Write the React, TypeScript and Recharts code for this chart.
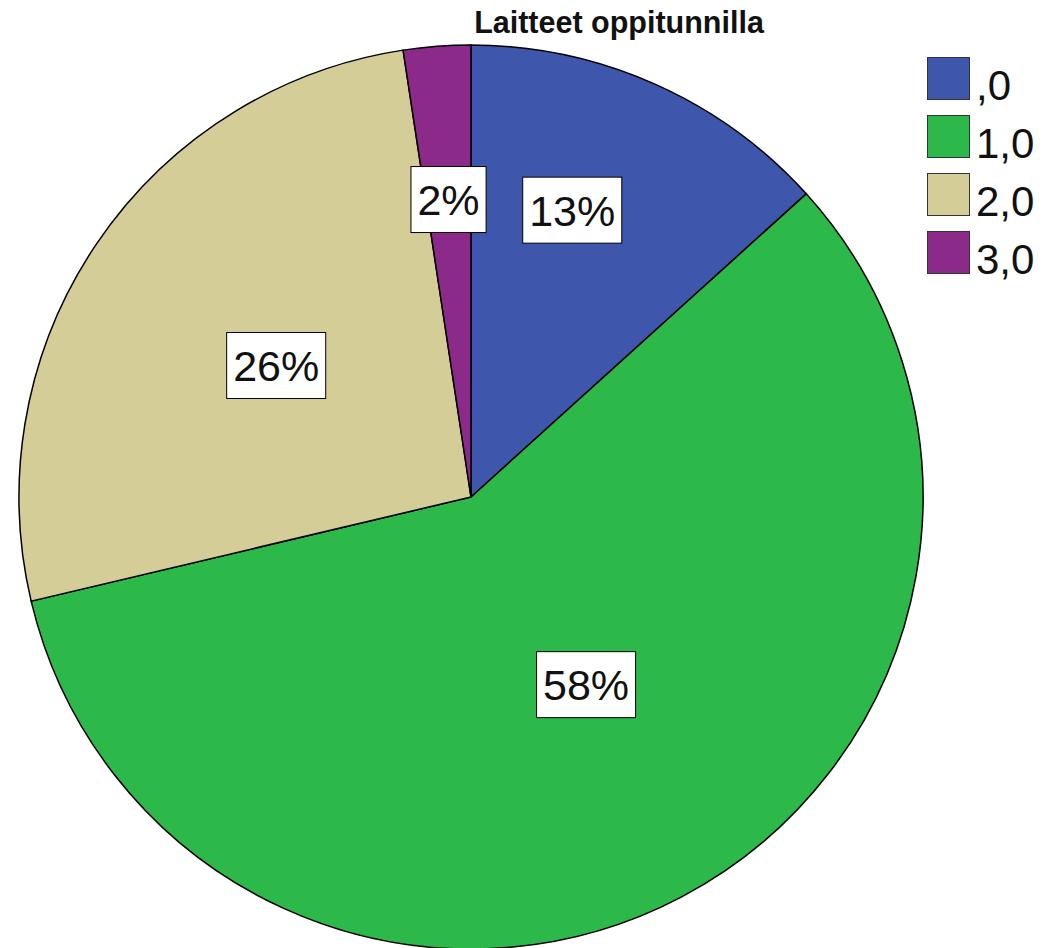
import { Legend, Pie, PieChart, Cell } from 'recharts'

const CATEGORIES = [',0', '1,0', '2,0', '3,0']
const VALUES = [13.3, 58.0, 26.3, 2.4]
const COLORS = ['#3E56AB', '#2DB84A', '#D4CD98', '#8B2A89']
const TITLE = 'Laitteet oppitunnilla'

// SPSS places the labels unevenly: distance from centre (share of radius) and angle nudge in degrees
const LABEL_R = [0.673, 0.487, 0.52, 0.66]
const LABEL_TURN = [4.5, 3.8, 0, 0]
const FONT = '"Liberation Sans", Arial, sans-serif'
const FS = 43
const RAD = Math.PI / 180

const data = CATEGORIES.map((name, i) => ({ name, value: VALUES[i] }))

function renderLabel(props: any) {
  const { cx, cy, midAngle, outerRadius, percent, index } = props
  const r = outerRadius * LABEL_R[index]
  const a = midAngle + LABEL_TURN[index]
  const x = cx + r * Math.cos(-a * RAD)
  const y = cy + r * Math.sin(-a * RAD)
  const txt = `${Math.round(percent * 100)}%`
  const w = (txt.length - 1) * 0.556 * FS + 0.889 * FS + 13
  const h = 66
  return (
    <g key={`lbl-${index}`}>
      <rect x={x - w / 2} y={y - h / 2} width={w} height={h} fill="#fff" stroke="#000" strokeWidth={1} />
      <text x={x} y={y + 15.4} textAnchor="middle" fontFamily={FONT} fontSize={FS} fill="#111">
        {txt}
      </text>
    </g>
  )
}

function LegendBox({ payload }: any) {
  return (
    <div style={{ fontFamily: FONT }}>
      {(payload ?? []).map((p: any, i: number) => (
        <div key={i} style={{ display: 'flex', height: 58 }}>
          <div
            style={{
              width: 43,
              height: 43,
              boxSizing: 'border-box',
              background: p.color,
              border: '1.5px solid #333',
            }}
          />
          <span style={{ fontSize: 42, lineHeight: '42px', marginTop: 8, marginLeft: 6, color: '#111' }}>
            {p.value}
          </span>
        </div>
      ))}
    </div>
  )
}

export default function App() {
  return (
    <div style={{ position: 'absolute', left: 0, top: 0, width: 1063, height: 948, background: '#fff', overflow: 'hidden' }}>
      <div
        style={{
          position: 'absolute',
          left: 419,
          width: 400,
          top: 5,
          textAlign: 'center',
          fontFamily: FONT,
          fontWeight: 'bold',
          fontSize: 30.5,
          lineHeight: '34px',
          color: '#111',
        }}
      >
        {TITLE}
      </div>
      <PieChart width={1063} height={948} margin={{ top: 0, right: 0, bottom: 0, left: 0 }}>
        <Pie
          data={data}
          dataKey="value"
          nameKey="name"
          cx={471}
          cy={497}
          outerRadius={452}
          startAngle={90}
          endAngle={-270}
          stroke="#000"
          strokeWidth={1.5}
          label={renderLabel}
          labelLine={false}
          isAnimationActive={false}
        >
          {data.map((d, i) => (
            <Cell key={d.name} fill={COLORS[i]} />
          ))}
        </Pie>
        <Legend
          layout="vertical"
          align="right"
          verticalAlign="top"
          content={<LegendBox />}
          wrapperStyle={{ position: 'absolute', left: 927, top: 57, width: 130 }}
        />
      </PieChart>
    </div>
  )
}
